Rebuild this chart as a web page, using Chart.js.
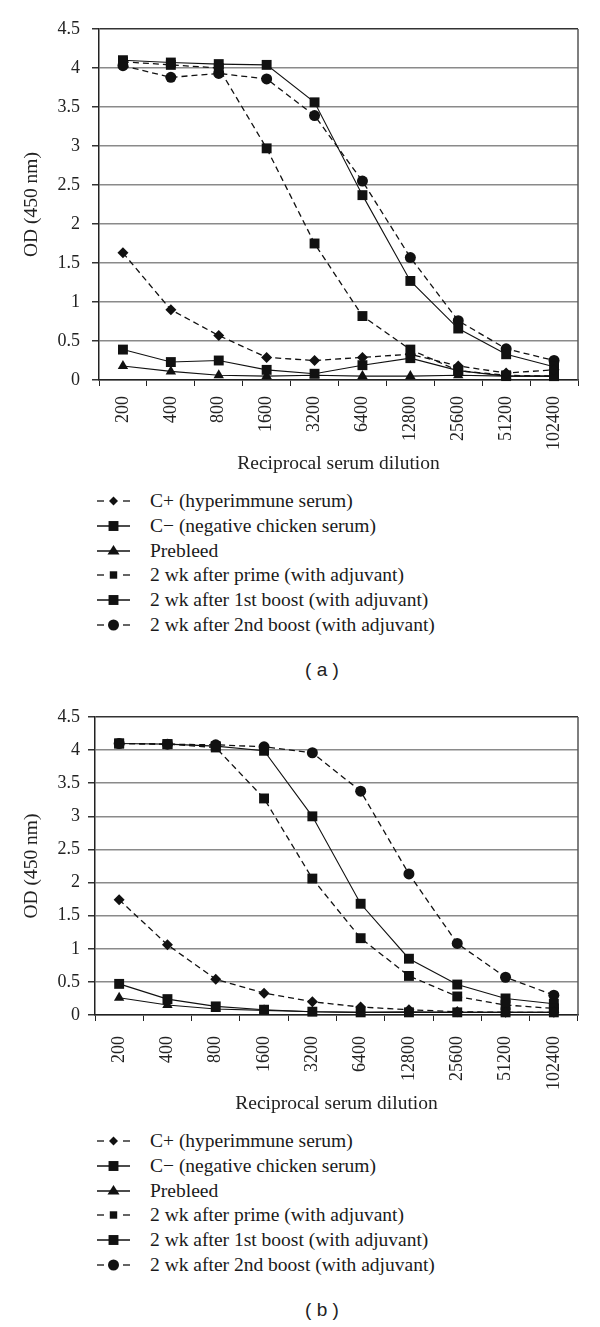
<!DOCTYPE html>
<html>
<head>
<meta charset="utf-8">
<script src="https://cdn.jsdelivr.net/npm/chart.js@4/dist/chart.umd.min.js"></script>
<style>
  body { margin: 0; background: #fff; width: 600px; height: 1327px; position: relative; overflow: hidden; }
  canvas { position: absolute; left: 0; }
  .legend { position: absolute; left: 0; width: 600px; font-family: 'Liberation Serif', serif; font-size: 19.5px; color: #1a1a1a; }
  .row { position: absolute; left: 0; height: 24px; white-space: nowrap; }
  .row svg { position: absolute; left: 96px; top: 2px; }
  .row span { position: absolute; left: 150px; top: 0; line-height: 24px; }
  .panel { position: absolute; left: 272px; width: 100px; text-align: center; font-family: 'Liberation Sans', Arial, sans-serif; font-size: 19px; color: #222; line-height: 24px; }
</style>
</head>
<body>
<canvas id="chartA" width="600" height="480" style="top:0"></canvas>
<div class="legend" id="legendA" style="top:489px"></div>
<div class="panel" style="top:658px">( a )</div>

<canvas id="chartB" width="600" height="430" style="top:690px"></canvas>
<div class="legend" id="legendB" style="top:1129px"></div>
<div class="panel" style="top:1298px">( b )</div>

<script>
// reciprocal serum dilutions (x categories)
const dilutions = ['200', '400', '800', '1600', '3200', '6400', '12800', '25600', '51200', '102400'];

const seriesNames = [
  'C+ (hyperimmune serum)',
  'C\u2212 (negative chicken serum)',
  'Prebleed',
  '2 wk after prime (with adjuvant)',
  '2 wk after 1st boost (with adjuvant)',
  '2 wk after 2nd boost (with adjuvant)'
];

// panel (a) OD values
const aCPos     = [1.63, 0.90, 0.57, 0.29, 0.25, 0.29, 0.33, 0.18, 0.09, 0.13];
const aCNeg     = [0.39, 0.23, 0.25, 0.13, 0.08, 0.19, 0.28, 0.12, 0.05, 0.05];
const aPrebleed = [0.18, 0.11, 0.06, 0.05, 0.06, 0.05, 0.05, 0.06, 0.05, 0.05];
const aPrime    = [4.08, 4.04, 4.00, 2.97, 1.75, 0.82, 0.39, 0.12, 0.06, 0.05];
const aBoost1   = [4.10, 4.07, 4.05, 4.04, 3.56, 2.37, 1.27, 0.66, 0.33, 0.17];
const aBoost2   = [4.03, 3.88, 3.93, 3.86, 3.39, 2.55, 1.57, 0.76, 0.40, 0.25];

// panel (b) OD values
const bCPos     = [1.74, 1.06, 0.54, 0.33, 0.20, 0.12, 0.08, 0.05, 0.04, 0.04];
const bCNeg     = [0.47, 0.24, 0.13, 0.08, 0.05, 0.04, 0.04, 0.04, 0.04, 0.04];
const bPrebleed = [0.26, 0.15, 0.09, 0.07, 0.05, 0.04, 0.05, 0.04, 0.04, 0.04];
const bPrime    = [4.10, 4.09, 4.04, 3.27, 2.06, 1.16, 0.59, 0.28, 0.15, 0.10];
const bBoost1   = [4.10, 4.09, 4.06, 3.99, 3.00, 1.68, 0.85, 0.46, 0.25, 0.17];
const bBoost2   = [4.10, 4.09, 4.08, 4.05, 3.96, 3.38, 2.13, 1.08, 0.57, 0.30];

const ink = '#111';
const dash = [6, 4];

// line style + marker for each series, same order as seriesNames
const styles = [
  { dashed: true,  point: 'rectRot',  r: 5.5 },
  { dashed: false, point: 'rect',     r: 7 },
  { dashed: false, point: 'triangle', r: 6 },
  { dashed: true,  point: 'rect',     r: 7 },
  { dashed: false, point: 'rect',     r: 7 },
  { dashed: true,  point: 'circle',   r: 5.5 }
];

// right edge of the plot box
const frame = {
  id: 'frame',
  beforeDatasetsDraw(chart) {
    const { ctx, chartArea: a } = chart;
    ctx.save();
    ctx.strokeStyle = '#555';
    ctx.lineWidth = 1.5;
    ctx.beginPath();
    ctx.moveTo(a.right, a.top);
    ctx.lineTo(a.right, a.bottom);
    ctx.stroke();
    ctx.restore();
  }
};

function makeChart(id, series, g) {
  const ctx = document.getElementById(id).getContext('2d');
  return new Chart(ctx, {
    type: 'line',
    data: {
      labels: dilutions,
      datasets: series.map((vals, i) => ({
        label: seriesNames[i],
        data: vals,
        borderColor: ink,
        backgroundColor: ink,
        borderWidth: styles[i].dashed ? 1.3 : 1.1,
        borderDash: styles[i].dashed ? dash : [],
        pointStyle: styles[i].point,
        pointRadius: styles[i].r,
        pointBackgroundColor: ink,
        pointBorderColor: ink,
        pointBorderWidth: 0,
        tension: 0,
        clip: false
      }))
    },
    options: {
      responsive: false,
      animation: false,
      layout: { padding: { top: g.top, right: 22, left: 0, bottom: 0 } },
      plugins: { legend: { display: false }, tooltip: { enabled: false } },
      scales: {
        x: {
          offset: true,
          afterFit: s => { s.height = g.xHeight; },
          grid: { drawOnChartArea: false, drawTicks: true, tickLength: 6, tickColor: '#222', offset: true },
          border: { color: '#222', width: 1.5 },
          ticks: {
            minRotation: 90, maxRotation: 90, autoSkip: false,
            padding: g.xPad,
            color: '#222',
            font: { family: 'Liberation Serif', size: 18 }
          },
          title: {
            display: true, text: 'Reciprocal serum dilution', color: '#222',
            font: { family: 'Liberation Serif', size: 19.5 },
            padding: { top: 0, bottom: 4 }
          }
        },
        y: {
          min: 0, max: 4.5,
          afterFit: s => { s.width = g.yWidth; },
          grid: {
            color: c => c.tick && c.tick.value === 4.5 ? '#333' : '#8a8a8a',
            lineWidth: 1.5, tickLength: 7, tickColor: '#333'
          },
          border: { color: '#222', width: 1.5 },
          ticks: {
            stepSize: 0.5, padding: g.yPad, color: '#222',
            font: { family: 'Liberation Serif', size: 18 },
            callback: v => String(Math.round(v * 10) / 10)
          },
          title: {
            display: true, text: 'OD (450 nm)', color: '#222',
            font: { family: 'Liberation Serif', size: 19.5 },
            padding: { top: 20, bottom: 0 }
          }
        }
      }
    },
    plugins: [frame]
  });
}

makeChart('chartA', [aCPos, aCNeg, aPrebleed, aPrime, aBoost1, aBoost2],
  { top: 29, xHeight: 100, yWidth: 99, xPad: 10, yPad: 12 });
makeChart('chartB', [bCPos, bCNeg, bPrebleed, bPrime, bBoost1, bBoost2],
  { top: 27, xHeight: 105, yWidth: 95, xPad: 15, yPad: 8 });

// legend: line sample with marker, then the series name as text
function marker(st, cx, cy, small) {
  const k = small ? 0.75 : 1;
  if (st.point === 'rect') {
    const h = st.r * Math.SQRT1_2 * k;
    return `<rect x="${cx - h}" y="${cy - h}" width="${2 * h}" height="${2 * h}" fill="${ink}"/>`;
  }
  if (st.point === 'rectRot') {
    const h = 4.5;
    return `<polygon points="${cx - h},${cy} ${cx},${cy - h} ${cx + h},${cy} ${cx},${cy + h}" fill="${ink}"/>`;
  }
  if (st.point === 'triangle') {
    const h = 6;
    return `<polygon points="${cx},${cy - h} ${cx + h},${cy + h * 0.6} ${cx - h},${cy + h * 0.6}" fill="${ink}"/>`;
  }
  return `<circle cx="${cx}" cy="${cy}" r="5.5" fill="${ink}"/>`;
}

function buildLegend(id) {
  const box = document.getElementById(id);
  seriesNames.forEach((name, i) => {
    const st = styles[i];
    const cy = 10;
    const line = st.dashed
      ? `<line x1="1" y1="${cy}" x2="8" y2="${cy}" stroke="${ink}" stroke-width="1.3"/><line x1="27" y1="${cy}" x2="34" y2="${cy}" stroke="${ink}" stroke-width="1.3"/>`
      : `<line x1="1" y1="${cy}" x2="34" y2="${cy}" stroke="${ink}" stroke-width="1.3"/>`;
    const row = document.createElement('div');
    row.className = 'row';
    row.style.top = (i * 24.8) + 'px';
    row.innerHTML = `<svg width="36" height="20">${line}${marker(st, 17.5, cy, st.dashed)}</svg><span>${name}</span>`;
    box.appendChild(row);
  });
}
buildLegend('legendA');
buildLegend('legendB');
</script>
</body>
</html>
